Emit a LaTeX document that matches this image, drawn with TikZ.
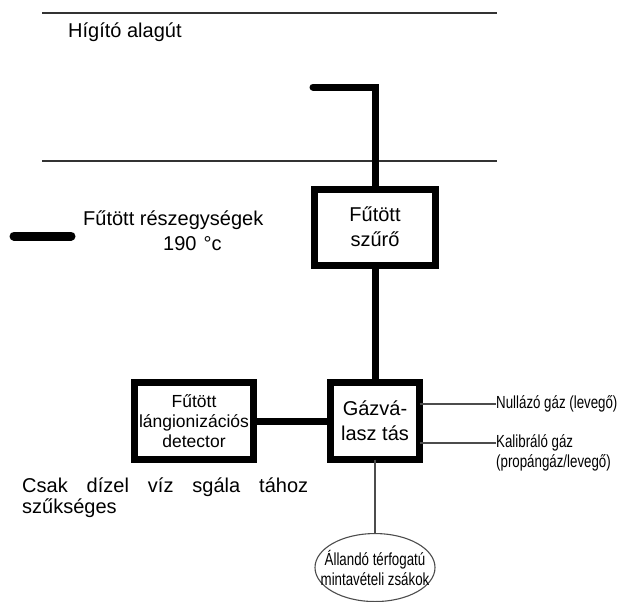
\documentclass[tikz,border=0pt]{standalone}
\usepackage{fontspec}
\setmainfont{Liberation Sans}
\newfontfamily\narrowfont[FakeStretch=0.76]{Liberation Sans}
\usetikzlibrary{positioning,shapes.geometric}

\begin{document}
\begin{tikzpicture}[
x=1pt, y=-1pt,
font=\fontsize{20}{25}\selectfont,
node distance=77pt,
heated/.style={draw, line width=7pt, inner sep=0pt, outer sep=0pt, align=center},
pipe/.style={line width=7pt},
tunnel/.style={line width=1.5pt, black!80},
gasline/.style={line width=1.1pt, black!70},
narrow/.style={font=\narrowfont\fontsize{17.5}{20}\selectfont, align=left, inner sep=0pt}
]
\useasboundingbox (0,0) rectangle (621,602);
% higito alagut
\draw[tunnel] (42,13) -- (497,13);
\draw[tunnel] (42,161) -- (497,161);
\node[anchor=base west, inner sep=0pt] (tunnel) at (68,38) {Hígító alagút};
% boxes
\node[heated, minimum width=89pt, minimum height=77pt] (gas) at (375,421) {Gázvá-\\lasz tás};
\node[heated, minimum width=119pt, minimum height=77pt, font=\fontsize{17.5}{20}\selectfont, left=of gas] (det) {Fűtött\\lángionizációs\\detector};
\node[heated, minimum width=121pt, minimum height=76pt, above=117.5pt of gas] (filter) {Fűtött\\szűrő};
\node[draw, ellipse, gasline, minimum width=120pt, minimum height=68pt, inner sep=0pt, below=73.5pt of gas,
  label={[narrow, align=center]center:Állandó térfogatú\\mintavételi zsákok}] (bags) {};
% gas inputs
\node[narrow, anchor=west] (zero) at (496,404) {Nullázó gáz (levegő)};
\node[narrow, anchor=west] (calib) at (496,453) {Kalibráló gáz\\(propángáz/levegő)};
% legend
\draw[line width=9pt, line cap=round] (14,236) -- (71,236);
\node[anchor=base west, inner sep=0pt] (legend) at (83,225) {Fűtött részegységek};
\node[anchor=base west, inner sep=0pt] (temp) at (163,250) {190\hspace{7pt}°c};
\node[text width=286pt, align=justify, inner sep=0pt, anchor=north west, font=\fontsize{20}{21}\selectfont] (note) at (22,478)
  {Csak dízel víz sgála tához\linebreak szűkséges};
% connections
\coordinate (probe) at (313,87);
\draw[pipe, line cap=round] (probe) -| (filter.north);
\draw[pipe] (filter) -- (gas);
\draw[pipe] (det) -- (gas);
\draw[gasline] (gas.east |- zero) -- (zero.west);
\draw[gasline] (gas.east |- 0,443) -- ([yshift=10pt]calib.west);
\draw[gasline] (gas) -- (bags);
\end{tikzpicture}
\end{document}
